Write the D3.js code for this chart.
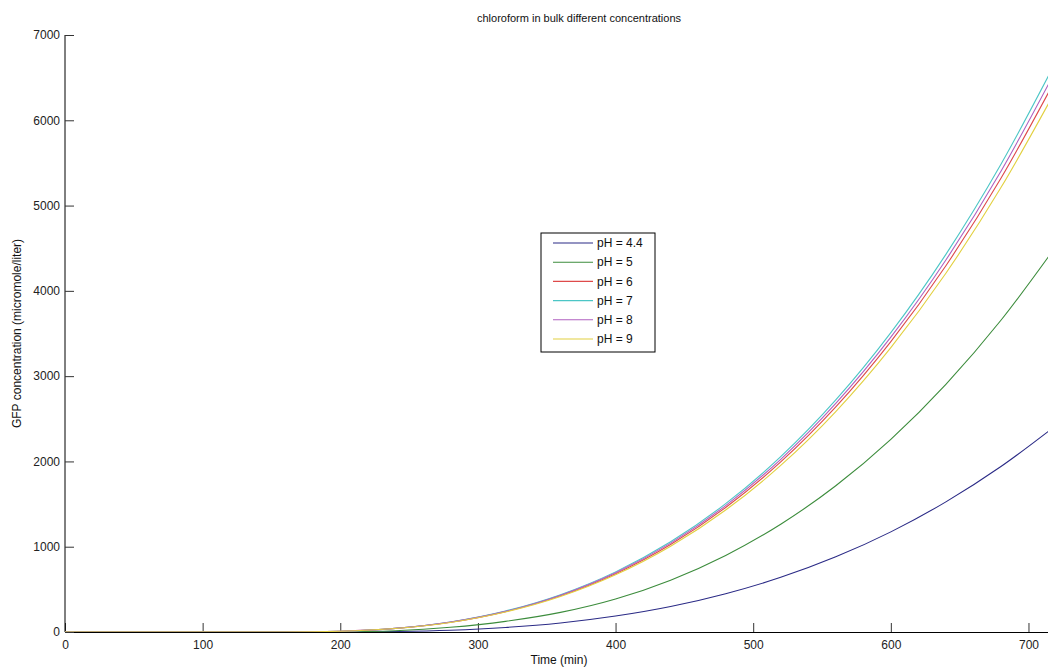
<!DOCTYPE html>
<html>
<head>
<meta charset="utf-8">
<script src="https://cdn.jsdelivr.net/npm/d3@7"></script>
<style>
  html, body { margin: 0; padding: 0; background: #fff; }
  svg { display: block; font-family: "Liberation Sans", Arial, sans-serif; }
</style>
</head>
<body>
<svg id="chart" width="1048" height="668"></svg>
<script>
// ---- data ----
const times = [0, 120, 160, 200, 240, 280, 320, 360, 400, 440, 480, 520, 560, 600, 640, 680, 720];
const seriesNames = ["pH = 4.4", "pH = 5", "pH = 6", "pH = 7", "pH = 8", "pH = 9"];
const ph44 = [0, 0, 0, 1, 6, 21, 53, 106, 187, 299, 449, 641, 881, 1174, 1526, 1940, 2422];
const ph5  = [0, 0, 0, 2, 15, 55, 125, 230, 387, 608, 898, 1264, 1715, 2259, 2904, 3655, 4523];
const ph6  = [0, 0, 0, 9, 42, 114, 239, 425, 684, 1026, 1460, 1994, 2639, 3405, 4295, 5320, 6489];
const ph7  = [0, 0, 0, 9, 43, 118, 246, 438, 705, 1058, 1505, 2056, 2721, 3510, 4428, 5485, 6690];
const ph8  = [0, 0, 0, 9, 42, 116, 242, 431, 694, 1042, 1482, 2025, 2680, 3457, 4362, 5403, 6590];
const ph9  = [0, 0, 0, 9, 41, 112, 234, 416, 670, 1005, 1430, 1953, 2585, 3335, 4207, 5211, 6356];
const seriesValues = [ph44, ph5, ph6, ph7, ph8, ph9];
const colors = ["#2a2a86", "#3c8c3c", "#de4a4a", "#4cc6c6", "#b060c0", "#e2d040"];
const xTicks = [0, 100, 200, 300, 400, 500, 600, 700];
const yTicks = [0, 1000, 2000, 3000, 4000, 5000, 6000, 7000];
const titleText = "chloroform in bulk different concentrations";
const xLabelText = "Time (min)";
const yLabelText = "GFP concentration (micromole/liter)";

(function () {
// ---- layout ----
const svg = d3.select("#chart");
const pLeft = 65, pRight = 1056, pTop = 35, pBottom = 632;
const x = d3.scaleLinear().domain([0, 720]).range([pLeft, pRight]);
const y = d3.scaleLinear().domain([0, 7000]).range([pBottom, pTop]);

svg.append("defs").append("clipPath").attr("id", "clip")
  .append("rect").attr("x", pLeft).attr("y", pTop - 2).attr("width", pRight - pLeft).attr("height", pBottom - pTop + 2);

// axes
const xAxis = d3.axisBottom(x).tickValues(xTicks).tickSize(-9).tickPadding(13).tickFormat(d3.format("d"));
const yAxis = d3.axisLeft(y).tickValues(yTicks).tickSize(-9).tickPadding(5).tickFormat(d3.format("d"));

const gx = svg.append("g").attr("transform", `translate(0,${pBottom})`).call(xAxis);
const gy = svg.append("g").attr("transform", `translate(${pLeft},0)`).call(yAxis);
[gx, gy].forEach(a => {
  a.select(".domain").attr("stroke", "#000").attr("stroke-width", 1);
  a.selectAll(".tick line").attr("stroke", "#333").attr("stroke-width", 1);
  a.selectAll(".tick text").attr("fill", "#222").attr("font-size", 12)
    .attr("font-family", "'Liberation Sans', Arial, sans-serif");
});
gx.select(".domain").attr("d", `M${pLeft},0.5H${pRight}`);
gy.select(".domain").attr("d", `M0,${pBottom}V${pTop}`);
gx.selectAll(".tick text").attr("dy", "0.32em").attr("y", 13);
gy.selectAll(".tick text").attr("x", -5);

// lines (drawn over the axes, as in the reference)
const line = d3.line().x(d => x(d[0])).y(d => y(d[1])).curve(d3.curveMonotoneX);
const g = svg.append("g").attr("clip-path", "url(#clip)");
seriesValues.forEach((vals, i) => {
  g.append("path")
    .datum(times.map((t, k) => [t, vals[k]]))
    .attr("d", line)
    .attr("fill", "none")
    .attr("stroke", colors[i])
    .attr("stroke-width", 1.1);
});

// title and labels
svg.append("text").attr("x", 579).attr("y", 22).attr("text-anchor", "middle")
  .attr("font-size", 11).attr("fill", "#111").text(titleText);
svg.append("text").attr("x", 559).attr("y", 664).attr("text-anchor", "middle")
  .attr("font-size", 12).attr("fill", "#111").text(xLabelText);
svg.append("text").attr("transform", `translate(21,${(pTop + pBottom) / 2}) rotate(-90)`)
  .attr("text-anchor", "middle").attr("font-size", 12).attr("fill", "#111").text(yLabelText);

// legend
const lg = svg.append("g");
const lx = 541, ly = 233, lw = 114, lh = 119;
lg.append("rect").attr("x", lx).attr("y", ly).attr("width", lw).attr("height", lh)
  .attr("fill", "#fff").attr("stroke", "#000").attr("stroke-width", 1);
seriesNames.forEach((name, i) => {
  const yy = ly + 10 + i * 19.2;
  lg.append("line").attr("x1", lx + 12).attr("x2", lx + 52).attr("y1", yy).attr("y2", yy)
    .attr("stroke", colors[i]).attr("stroke-width", 1.1);
  lg.append("text").attr("x", lx + 56).attr("y", yy).attr("dy", "0.35em")
    .attr("font-size", 12).attr("fill", "#111").text(name);
});
})();
</script>
</body>
</html>
